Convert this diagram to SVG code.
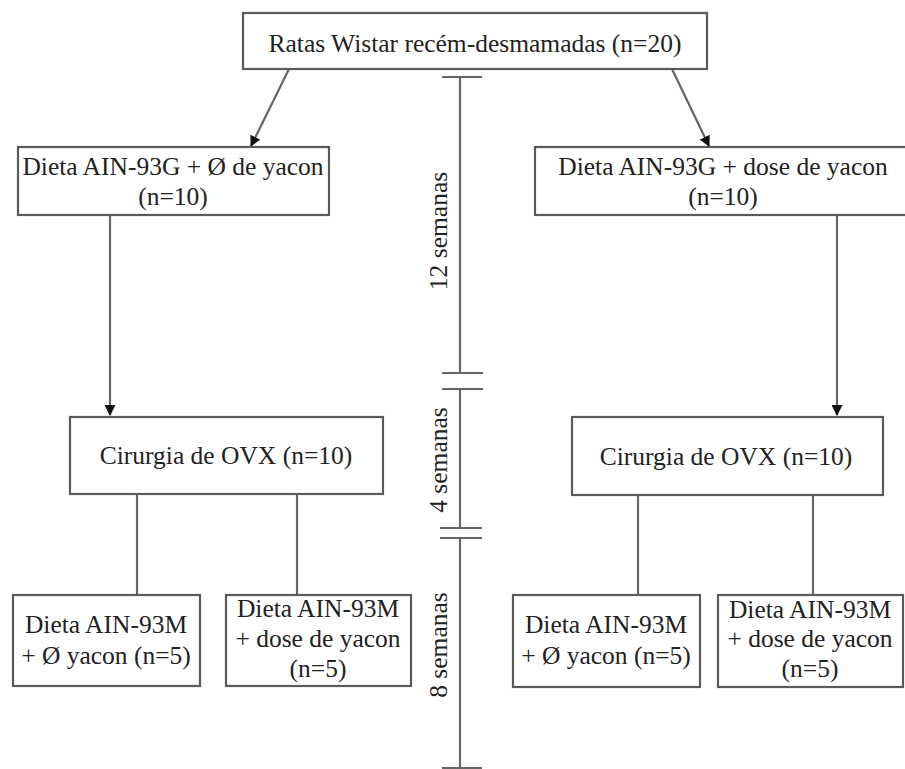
<svg xmlns="http://www.w3.org/2000/svg" width="905" height="769" viewBox="0 0 905 769">
<defs>
<style>
.box{fill:#fff;stroke:#5a5a5a;stroke-width:2.2}
.ln{stroke:#666;stroke-width:2.2;fill:none}
.t{font-family:'Liberation Serif',Tinos,'Times New Roman','DejaVu Serif',serif;font-size:25.5px;fill:#222;text-anchor:middle}
</style>
<marker id="ah" viewBox="0 0 10 10" refX="9" refY="5" markerWidth="5" markerHeight="5" orient="auto" markerUnits="strokeWidth">
<path d="M0,0 L10,5 L0,10 z" fill="#111"/>
</marker>
</defs>
<rect width="905" height="769" fill="#fff"/>
<g id="connectors">
<line class="ln" x1="289" y1="69" x2="251" y2="146" marker-end="url(#ah)"/>
<line class="ln" x1="672" y1="69" x2="709" y2="146" marker-end="url(#ah)"/>
<line class="ln" x1="110" y1="215" x2="110" y2="415" marker-end="url(#ah)"/>
<line class="ln" x1="837" y1="215" x2="837" y2="415" marker-end="url(#ah)"/>
<line class="ln" x1="137" y1="494" x2="137" y2="595"/>
<line class="ln" x1="297" y1="494" x2="297" y2="595"/>
<line class="ln" x1="638" y1="495" x2="638" y2="595"/>
<line class="ln" x1="813" y1="495" x2="813" y2="595"/>
</g>
<g id="timeline">
<line class="ln" x1="460" y1="77" x2="460" y2="373"/>
<line class="ln" x1="442" y1="77" x2="482" y2="77"/>
<line class="ln" x1="442" y1="373" x2="483" y2="373"/>
<line class="ln" x1="442" y1="389" x2="483" y2="389"/>
<line class="ln" x1="460" y1="389" x2="460" y2="528"/>
<line class="ln" x1="440" y1="528" x2="482" y2="528"/>
<line class="ln" x1="440" y1="538" x2="482" y2="538"/>
<line class="ln" x1="460" y1="538" x2="460" y2="768"/>
<line class="ln" x1="442" y1="768" x2="482" y2="768"/>
<text class="t" font-family="Liberation Serif, serif" transform="translate(447,231) rotate(-90)">12 semanas</text>
<text class="t" font-family="Liberation Serif, serif" transform="translate(447,460) rotate(-90)">4 semanas</text>
<text class="t" font-family="Liberation Serif, serif" transform="translate(447,645) rotate(-90)">8 semanas</text>
</g>
<g id="n0">
<rect class="box" x="243" y="13" width="464" height="56"/>
<text class="t" x="475" y="52">Ratas Wistar recém-desmamadas (n=20)</text>
</g>
<g id="n1">
<rect class="box" x="18" y="147" width="311" height="68"/>
<text class="t" x="173" y="175">Dieta AIN-93G + Ø de yacon</text>
<text class="t" x="173" y="205">(n=10)</text>
</g>
<g id="n2">
<rect class="box" x="535" y="147" width="380" height="68"/>
<text class="t" x="723" y="175">Dieta AIN-93G + dose de yacon</text>
<text class="t" x="723" y="205">(n=10)</text>
</g>
<g id="n3">
<rect class="box" x="70" y="417" width="313" height="77"/>
<text class="t" x="226" y="464">Cirurgia de OVX (n=10)</text>
</g>
<g id="n4">
<rect class="box" x="572" y="417" width="311" height="78"/>
<text class="t" x="726" y="465">Cirurgia de OVX (n=10)</text>
</g>
<g id="n5">
<rect class="box" x="13" y="595" width="187" height="91"/>
<text class="t" x="106" y="633">Dieta AIN-93M</text>
<text class="t" x="106" y="664">+ Ø yacon (n=5)</text>
</g>
<g id="n6">
<rect class="box" x="226" y="595" width="185" height="91"/>
<text class="t" x="318" y="617">Dieta AIN-93M</text>
<text class="t" x="318" y="647">+ dose de yacon</text>
<text class="t" x="318" y="677">(n=5)</text>
</g>
<g id="n7">
<rect class="box" x="513" y="595" width="187" height="92"/>
<text class="t" x="606" y="633">Dieta AIN-93M</text>
<text class="t" x="606" y="664">+ Ø yacon (n=5)</text>
</g>
<g id="n8">
<rect class="box" x="718" y="595" width="185" height="92"/>
<text class="t" x="810" y="618">Dieta AIN-93M</text>
<text class="t" x="810" y="647">+ dose de yacon</text>
<text class="t" x="810" y="677">(n=5)</text>
</g>
</svg>
